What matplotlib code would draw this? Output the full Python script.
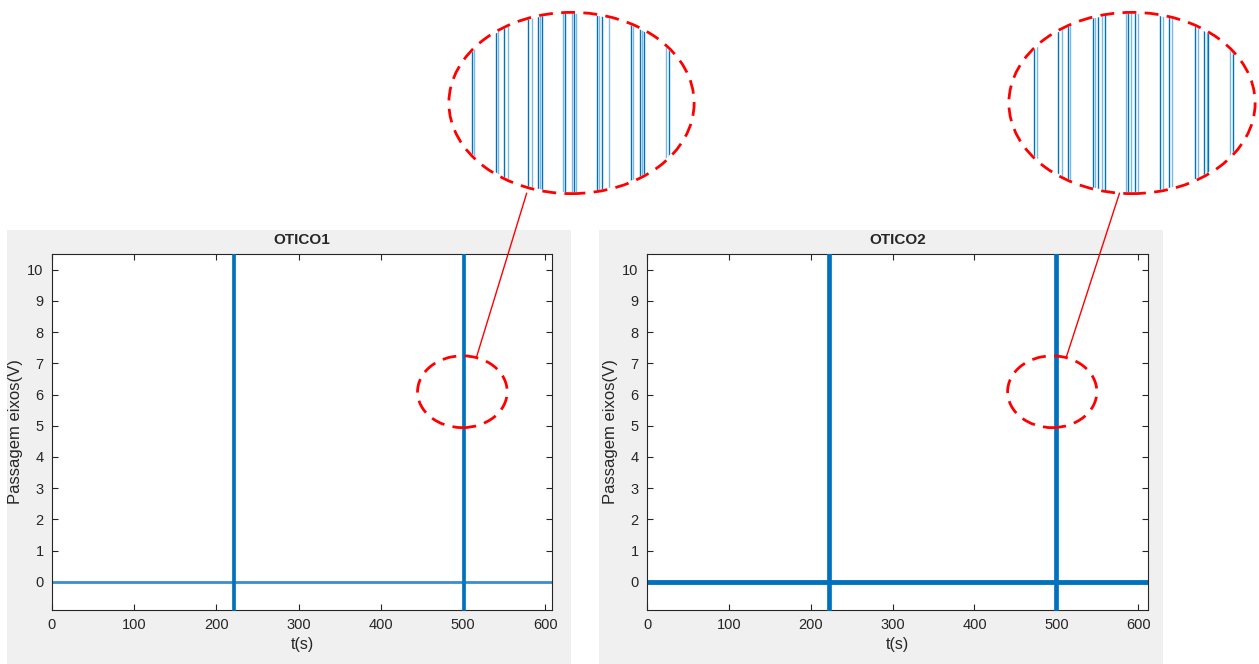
import matplotlib
matplotlib.use("Agg")
import matplotlib.pyplot as plt
import matplotlib.patches as patches
from matplotlib.patches import ConnectionPatch

plt.rcParams['font.family'] = ['Liberation Sans', 'DejaVu Sans']

# dados
titles = ['OTICO1', 'OTICO2']
t_end = [608, 612]
baseline = [0.0, 0.0]
noise_amp = [0.03, 0.065]
spike_windows = [[(219.0, 223.0), (498.0, 502.5)],
                 [(220.0, 224.5), (497.5, 502.5)]]
spike_low = [-0.9, -0.9]
spike_high = [10.6, 10.6]
xticks = [0, 100, 200, 300, 400, 500, 600]
yticks = list(range(0, 11))

# zoom: posição relativa (0-1) das bordas de pulso dentro da janela ampliada
zoom_edges = [
    [0.099, 0.110, 0.197, 0.206, 0.230, 0.244, 0.327, 0.340, 0.364, 0.373, 0.380,
     0.465, 0.474, 0.501, 0.510, 0.517, 0.601, 0.612, 0.624, 0.652,
     0.739, 0.748, 0.775, 0.784, 0.791, 0.880, 0.892],
    [0.109, 0.121, 0.205, 0.219, 0.243, 0.252, 0.343, 0.352, 0.365, 0.379, 0.392,
     0.476, 0.485, 0.496, 0.512, 0.523, 0.612, 0.625, 0.649, 0.659,
     0.752, 0.765, 0.788, 0.799, 0.805, 0.892, 0.903],
]
zoom_center = [(499, 6.09), (495, 6.09)]
zoom_size = (109, 2.3)
link_from = [(516, 7.18), (512, 7.18)]
link_to = [(0.32, 0.01), (0.45, 0.01)]

blue = '#0072BD'
light = '#7DB8E3'
base_colors = ['#3F8FD0', blue]

fig = plt.figure(figsize=(12.59, 6.64), dpi=100)

# painéis cinza (estilo MATLAB)
for px in [7, 599]:
    fig.patches.append(patches.Rectangle((px / 1259, 0), 564 / 1259, 434 / 664,
                                         transform=fig.transFigure, facecolor='#f0f0f0',
                                         edgecolor='none', zorder=-5))

axes_pos = [[52 / 1259, 54 / 664, 500 / 1259, 356 / 664],
            [647 / 1259, 54 / 664, 501 / 1259, 356 / 664]]
inset_pos = [[447 / 1259, 469 / 664, 249 / 1259, 184 / 664],
             [1007 / 1259, 469 / 664, 250 / 1259, 184 / 664]]

for k in range(2):
    ax = fig.add_axes(axes_pos[k])
    ax.set_facecolor('white')
    ax.fill_between([0, t_end[k]], baseline[k] - noise_amp[k], baseline[k] + noise_amp[k],
                    color=base_colors[k], linewidth=0.6, zorder=2)
    for s, e in spike_windows[k]:
        ax.fill_between([s, e], spike_low[k], spike_high[k], color=blue, linewidth=0.5, zorder=3)
    ax.set_xlim(0, t_end[k])
    ax.set_ylim(-0.9, 10.5)
    ax.set_xticks(xticks)
    ax.set_yticks(yticks)
    ax.tick_params(direction='in', top=True, right=True, labelsize=10.5,
                   colors='#262626', length=4, width=0.8, pad=6)
    for sp in ax.spines.values():
        sp.set_color('#262626')
        sp.set_linewidth(0.8)
    ax.set_title(titles[k], fontsize=11, fontweight='bold', color='#262626', pad=7)
    ax.set_xlabel('t(s)', fontsize=11.5, color='#262626', labelpad=3)
    ax.set_ylabel('Passagem eixos(V)', fontsize=12, color='#262626', labelpad=3)

    # elipse pequena
    ell = patches.Ellipse(zoom_center[k], zoom_size[0], zoom_size[1], fill=False,
                          edgecolor='red', linewidth=2, linestyle=(0, (5, 3)), zorder=5)
    ax.add_patch(ell)

    # janela ampliada
    axz = fig.add_axes(inset_pos[k])
    axz.set_xlim(0, 1)
    axz.set_ylim(0, 1)
    axz.axis('off')
    clip = patches.Ellipse((0.5, 0.5), 0.97, 0.97, transform=axz.transAxes,
                           facecolor='none', edgecolor='none')
    axz.add_patch(clip)
    for i, x in enumerate(zoom_edges[k]):
        ln = axz.axvline(x, 0, 1, color=blue if i % 2 == 0 else light, linewidth=1.0)
        ln.set_clip_path(clip)
    big = patches.Ellipse((0.5, 0.5), 0.985, 0.985, transform=axz.transAxes, fill=False,
                          edgecolor='red', linewidth=2, linestyle=(0, (5, 3)), zorder=5)
    axz.add_patch(big)

    con = ConnectionPatch(xyA=link_from[k], coordsA=ax.transData,
                          xyB=link_to[k], coordsB=axz.transAxes,
                          color='red', linewidth=1)
    fig.add_artist(con)

fig.savefig('out.png', dpi=100)
